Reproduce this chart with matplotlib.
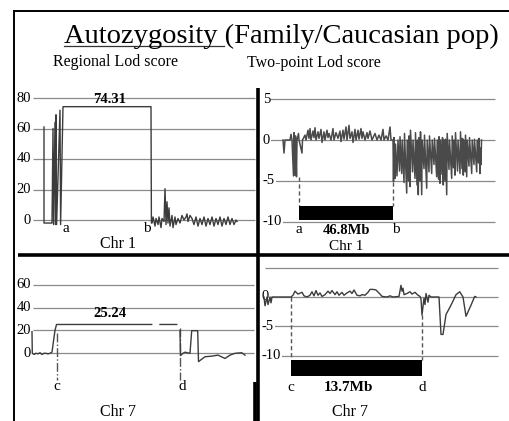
import matplotlib.pyplot as plt
from matplotlib.lines import Line2D

plt.rcParams['font.family'] = ['Liberation Serif', 'DejaVu Serif']

W, H = 510, 421

# ---- Chr 1, regional LOD score (top left)
chr1_reg_pos = [16, 16, 24, 25, 25.6, 27, 27.6, 28, 28.6, 32, 32.6, 35, 123, 123.4,
                124, 125, 127, 128, 130, 131, 133, 134, 136, 137, 138, 139, 140, 141,
                142, 144, 145, 147, 148, 150, 152, 154, 156, 158, 159, 160, 162, 164,
                166, 168, 170, 172, 174, 176, 178, 180, 182, 184, 186, 188, 190, 192,
                194, 196, 198, 200, 202, 204, 206, 208, 209]
chr1_reg_lod = [61, -2, -2, 60, -3, 64, -3, 69, -3, 72, -3, 74.31, 74.31, -2,
                -2, 2, -4, 1, -3, 2, -5, 1, -1, 20.5, -3, 12, -2, 8,
                -4, 3, -5, 2, -3, 1, -2, 3, 0, 2, 4, -1, 3, 1,
                -3, 2, -4, 1, -3, 2, -4, 1, -3, 2, -4, 1, -3, 2,
                -4, 1, -3, 2, -3, 1, -3, 0, -1]
chr1_reg_ticks = [0, 20, 40, 60, 80]
chr1_reg_max = 74.31

# ---- Chr 1, two-point LOD score (top right)
chr1_tp_pos = [21, 22, 23, 28, 29, 30, 31.5, 32, 33, 33.5, 34.5, 35, 36.5, 37, 40, 40.5,
               43, 44, 46, 47, 48, 49, 51, 52, 53, 54, 56, 57, 59, 60, 62, 63, 65, 66,
               67, 69, 71, 72, 74, 76, 78, 79, 81, 82, 84, 85, 87, 88, 90, 91, 93, 94,
               96, 97, 99, 100, 101, 103, 105, 106, 108, 110, 113, 115, 117, 119, 121,
               122, 124, 126, 128, 129, 131,
               131.5, 132, 133, 133.5, 135, 136, 137.5, 138, 139.7, 140.2, 142, 142.5,
               144.7, 145.2, 146.5, 147, 148, 148.5, 150.5, 151, 153, 153.5, 155, 155.5,
               156.3, 156.8, 158, 158.5, 159.7, 160.2, 162, 162.5, 164.7, 165.2, 167,
               167.5, 169.7, 170.2, 172, 172.5, 174.7, 175.2, 176.5, 177, 178, 178.5,
               180, 180.5, 181.3, 181.8, 183, 183.5, 184.7, 185.2, 187, 187.5, 189.7,
               190.2, 191.5, 192, 193, 193.5, 195.5, 196, 198, 198.5, 200, 200.5, 201.3,
               201.8, 203, 203.5, 204.7, 205.2, 207, 207.5, 209.7, 210.2, 212, 212.5,
               214.7, 215.2, 216.5, 217, 218, 218.5, 219, 219.5]
chr1_tp_lod = [0, -1.6, 0, 0, 0.7, 0, -4.4, 0.9, -4.3, 0.5, -4.5, 0, 0.8, 0, -1.6, 0,
               0.6, 0, 1.2, 0.2, 1.4, 0, 1.1, 0.3, 1.5, 0, 1.0, 0.2, 1.3, -0.3, 1.0, 0, 1.2, 0.3,
               0.8, 0, 1.4, 0, 0.9, 0.2, 1.1, -0.2, 1.2, 0.1, 1.6, 0, 1.8, 0.2, 1.0, -0.3, 1.3, 0,
               1.2, 0.1, 1.4, 0.2, 1.0, 0, 0.9, 0.2, 1.1, 0, 0.8, 0, 0.6, 0, 1.3,
               0, 0.5, 0, 1.6, 0, 0,
               -5.1, 0.3, -4.7, -0.5, -4.4, 0, -3.8, 0.4, -4.1, 0, -5.2, 0.8,
               -6.5, 0, -5.0, 0.5, -5.7, 1.2, -3.9, 0, -4.7, 0.9, -5.5, 0,
               -6.7, 0.3, -5.0, 1.0, -6.7, 0, -3.5, 0.6, -5.9, 0, -3.9,
               0.5, -4.1, 0, -3.0, 0.2, -4.5, 0, -4.8, 0.4, -5.3, 0,
               -4.2, 0.3, -5.5, 0, -5.0, 0.1, -6.7, 0.8, -3.6, 0, -4.7,
               0.5, -3.4, 0, -4.3, 0.9, -3.8, 0, -4.1, 1.0, -3.5, 0.2, -4.3,
               0, -3.9, 0.6, -4.5, 0, -3.2, 0.3, -4.1, 0, -3.0, 0.1,
               -3.9, 0, -2.8, 0.2, -4.1, -1.0, -3.0, 0]
chr1_tp_ticks = [5, 0, -5, -10]
chr1_roh = (37, 131)          # a, b
chr1_roh_label = "46.8Mb"

# ---- Chr 7, regional LOD score (bottom left)
chr7_reg_pos = [4, 4.3, 6, 8, 10, 12, 14, 16, 18, 20, 22, 24, 26, 27, 28.5, 123.7, 124,
                132, 148.7, 149, 152, 152.5, 155, 157, 159, 162, 163.7, 169.7, 170.5,
                177, 183.7, 190, 197, 202, 207, 213.7, 217]
chr7_reg_lod = [19, 0, -1, 0, -0.5, 0.5, -1, 0, 0, -0.5, 0, 1, 14, 20, 25.24, 25.24, None,
                25.24, 25.24, None, 20, -2, 0, 1, 0.5, 0, 19.8, 19.8, -7.3,
                -3, -2.5, -1.6, -4.5, -1.6, 0, 0.5, -1.6]
chr7_reg_ticks = [0, 20, 40, 60]
chr7_reg_max = 25.24
chr7_reg_cd = (29, 152)

# ---- Chr 7, two-point LOD score (bottom right)
chr7_tp_pos = [2, 3, 5, 6, 8, 9, 10, 29, 31, 33, 36, 40, 42, 45, 48, 50, 52, 54, 56, 58,
               60, 63, 66, 68, 70, 73, 75, 77, 80, 82, 85, 88, 90, 92, 95, 98, 100, 103,
               106, 108, 111, 114, 118, 120, 125, 128, 131, 137, 139, 140, 141, 142, 145,
               148, 150, 153, 156, 158, 159, 160, 162, 163, 164, 166, 167, 169, 177,
               179, 181, 184, 189, 194, 197.7, 201, 204, 209, 212.7, 214]
chr7_tp_lod = [0, -1.5, 0, -1.3, 0, -1.0, 0, 0, 0.3, 1.0, 0.5, 0.8, 0.2, 0, 0.3, 0.9,
               0.2, 1.1, 0.3, 0.7, 0.1, 0.4, 1.0, 0.6, 1.1, 0.4, 0.9, 0.3, 0.8, 0.3, 0.7,
               1.0, 0.6, 1.2, 0.3, 0.2, 0.4, 0.3, 0.8, 1.3, 1.3, 1.2, 0.5, 0.1, 0, 0.2, 0,
               0.1, 2.0, 1.0, 1.5, 0.4, 0.6, 0.9, 0.5, 0.8, 0.3, 0.1, -0.3, -3.1, -0.2,
               -1.3, 0.6, -0.9, 0.3, 0, 0, -6.4, -6.4, -3.0, -1.4, 0.4, 0.9, 0, -3.3,
               -1.4, 0.1, 0]
chr7_tp_ticks = [5, 0, -5, -10]
chr7_tp_ticklabels = ["", "0", "-5", "-10"]
chr7_roh = (29.3, 160)        # c, d
chr7_roh_label = "13.7Mb"

fig = plt.figure(figsize=(W / 100, H / 100), dpi=100)


def panel(x0, y0, x1, y1, ylim):
    ax = fig.add_axes([x0 / W, 1 - y1 / H, (x1 - x0) / W, (y1 - y0) / H])
    ax.set_xlim(0, x1 - x0)
    ax.set_ylim(*ylim)
    ax.axis('off')
    return ax


def frame(x, y):
    fig.add_artist(Line2D([v / W for v in x], [1 - v / H for v in y],
                          color='black', lw=2.6, solid_capstyle='butt'))


grid_kw = dict(color='#8a8a8a', lw=0.9, zorder=1)
line_col = '#3c3c3c'
box = dict(facecolor='white', edgecolor='none', pad=0.3)

# top left
ax = panel(28, 88, 256, 253, ((220 - 253) / 1.525, (220 - 88) / 1.525))
ax.hlines(chr1_reg_ticks, 5, 227, **grid_kw)
for t in chr1_reg_ticks:
    ax.text(3, t, str(t), ha='right', va='center', fontsize=10.5, clip_on=False)
ax.plot(chr1_reg_pos, chr1_reg_lod, color=line_col, lw=1.0, zorder=3)
ax.text(82, 79, f"{chr1_reg_max:.2f}", ha='center', va='center', fontsize=10.5, fontweight='bold')
ax.text(38, -5.5, "a", ha='center', va='center', fontsize=11)
ax.text(119, -5.5, "b", ha='center', va='center', fontsize=11)
ax.text(90, -15.7, "Chr 1", ha='center', va='center', fontsize=11.5)

# top right
ax = panel(262, 88, 505, 253, (-(253 - 140) / 8.17, (140 - 88) / 8.17))
ax.hlines(chr1_tp_ticks, 2, 233, **grid_kw)
for t in chr1_tp_ticks:
    ax.text(1, t, str(t), ha='left', va='center', fontsize=10.5, bbox=box, zorder=2)
ax.plot(chr1_tp_pos, chr1_tp_lod, color='#4a4a4a', lw=1.1, zorder=3)
ax.vlines(chr1_roh, [-4.5, -5.1], -8.1, colors='#555555', lw=1.0, linestyles=(0, (3, 2)))
ax.fill_between(chr1_roh, -9.8, -8.1, color='black', lw=0, zorder=4)
ax.text(chr1_roh[0], -11.0, "a", ha='center', va='center', fontsize=11)
ax.text(chr1_roh[1] + 3, -11.0, "b", ha='center', va='center', fontsize=11)
ax.text(85, -11.1, chr1_roh_label, ha='center', va='center', fontsize=10.5, fontweight='bold')
ax.text(84, -13.05, "Chr 1", ha='center', va='center', fontsize=11)

# bottom left
ax = panel(28, 257, 256, 421, ((353.3 - 421) / 1.142, (353.3 - 257) / 1.142))
ax.hlines(chr7_reg_ticks, 5, 226, **grid_kw)
for t in chr7_reg_ticks:
    ax.text(3, t, str(t), ha='right', va='center', fontsize=10.5, clip_on=False)
ax.plot(chr7_reg_pos, chr7_reg_lod, color=line_col, lw=1.0, zorder=3)
ax.vlines(chr7_reg_cd, [18, 22], -23, colors='#555555', lw=1.0, linestyles='-.')
ax.text(82, 34.5, f"{chr7_reg_max:.2f}", ha='center', va='center', fontsize=10.5, fontweight='bold')
ax.text(chr7_reg_cd[0], -29.5, "c", ha='center', va='center', fontsize=11)
ax.text(chr7_reg_cd[1] + 2, -29.5, "d", ha='center', va='center', fontsize=11)
ax.text(90, -58.5, "Chr 7", ha='center', va='bottom', fontsize=11.5)

# bottom right
ax = panel(262, 257, 505, 421, (-(421 - 297) / 5.85, (297 - 257) / 5.85))
ax.hlines(chr7_tp_ticks, 3, 236, **grid_kw)
for t, lab in zip(chr7_tp_ticks, chr7_tp_ticklabels):
    if lab:
        ax.text(0, t, lab, ha='left', va='center', fontsize=10.5, bbox=box, zorder=2)
ax.plot(chr7_tp_pos, chr7_tp_lod, color=line_col, lw=1.0, zorder=3)
ax.plot([227.7, 228.5], [-0.9, -0.9], color=line_col, lw=1.0)
ax.vlines(chr7_roh, [0, -3.0], -10.8, colors='#555555', lw=1.0, linestyles=(0, (3, 2)))
ax.fill_between(chr7_roh, -13.5, -10.8, color='black', lw=0, zorder=4)
ax.text(chr7_roh[0], -15.4, "c", ha='center', va='center', fontsize=11)
ax.text(chr7_roh[1], -15.4, "d", ha='center', va='center', fontsize=11)
ax.text(86, -15.5, chr7_roh_label, ha='center', va='center', fontsize=11, fontweight='bold')
ax.text(88, -21.0, "Chr 7", ha='center', va='bottom', fontsize=11.5)

# frame and panel dividers
fig.add_artist(Line2D([14 / W, 14 / W], [1 - 11 / H, 0], color='black', lw=1.4))
fig.add_artist(Line2D([14 / W, 1], [1 - 11 / H, 1 - 11 / H], color='black', lw=1.4))
frame([258, 258], [88, 421])
frame([18, 510], [255, 255])
frame([255, 255], [382, 421])

# titles
title = fig.text(281 / W, 1 - 43 / H, "Autozygosity (Family/Caucasian pop)",
                 ha='center', va='baseline', fontsize=20.5)
fig.text(116 / W, 1 - 62 / H, "Regional Lod score", ha='center', va='center', fontsize=11.5)
fig.text(314 / W, 1 - 63 / H, "Two-point Lod score", ha='center', va='center', fontsize=11.5)

# underline the first word
fig.canvas.draw()
r = fig.canvas.get_renderer()
tb = title.get_window_extent(r)
tmp = fig.text(0, 0, "Autozygosity ", fontsize=20.5)
uw = tmp.get_window_extent(r).width
tmp.remove()
x0 = tb.x0 / W
fig.add_artist(Line2D([x0, x0 + uw / W], [1 - 45.5 / H, 1 - 45.5 / H], color='#333333', lw=0.9))

fig.savefig("out.png", dpi=100)
